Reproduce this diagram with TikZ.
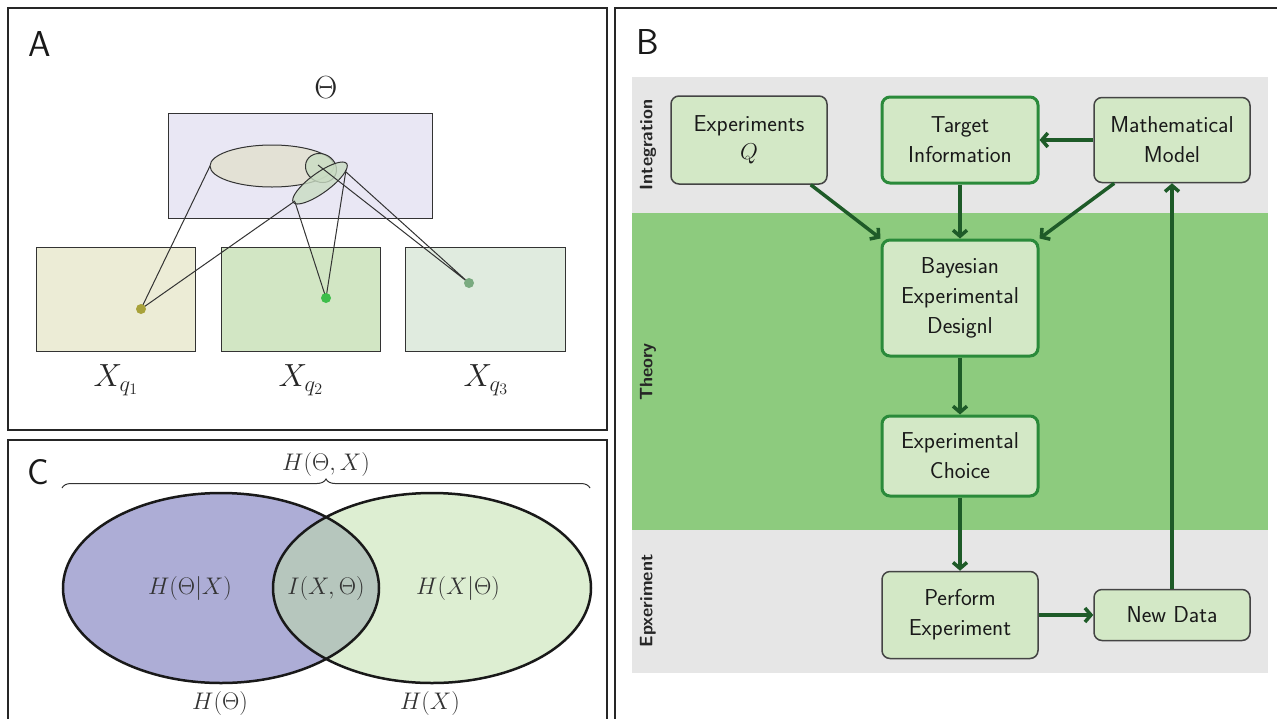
\RequirePackage{fix-cm}
\documentclass[tikz,border=0pt]{standalone}
\usetikzlibrary{arrows.meta,decorations.pathreplacing,calc}
\definecolor{bandgray}{HTML}{E6E6E6}
\definecolor{bandgreen}{HTML}{8DCB7E}
\definecolor{boxgreen}{HTML}{D3E8C6}
\definecolor{greenborder}{HTML}{2A8A3A}
\definecolor{grayborder}{HTML}{444444}
\definecolor{arrowgreen}{HTML}{1E5B28}
\definecolor{purplerect}{HTML}{E9E7F4}
\definecolor{boxone}{HTML}{ECECD6}
\definecolor{boxtwo}{HTML}{D2E6C4}
\definecolor{boxthree}{HTML}{E0EBDF}
\definecolor{bigell}{HTML}{E3E1D5}
\definecolor{smallell}{HTML}{C9DCC3}
\definecolor{dotone}{HTML}{A8A23A}
\definecolor{dottwo}{HTML}{3DBE4A}
\definecolor{dotthree}{HTML}{7AAA80}
\definecolor{vennleft}{HTML}{ADADD6}
\definecolor{vennright}{HTML}{DDEED2}
\definecolor{vennmid}{HTML}{B6C6BD}
\begin{document}
\begin{tikzpicture}[x=1pt,y=-1pt,
  frame/.style={line width=2.5pt, draw=black!85},
  flowbox/.style={rounded corners=8pt, fill=boxgreen, draw=grayborder, line width=1.5pt,
     minimum width=156pt, align=center, text=black!90,
     font=\sffamily\fontsize{23}{30}\selectfont, inner sep=2pt},
  keybox/.style={flowbox, draw=greenborder, line width=3pt},
  arr/.style={draw=arrowgreen, line width=3.5pt, -{Straight Barb[length=6pt,width=14pt]}},
  bandlabel/.style={rotate=90, font=\sffamily\bfseries\fontsize{18}{20}\selectfont, text=black!85},
  panellabel/.style={font=\sffamily\fontsize{36}{40}\selectfont, text=black!90},
  thinline/.style={draw=black!80, line width=1pt},
  mathlabel/.style={font=\fontsize{32}{36}\selectfont, text=black!85},
  vennlabel/.style={font=\fontsize{24}{28}\selectfont, text=black!80}
]
\useasboundingbox (0,0) rectangle (1277,718);
\fill[white] (0,0) rectangle (1277,718);

% ---------------- Panel A ----------------
\draw[frame] (8,8) rectangle (607,430);
\node[panellabel] (labA) at (40,44) {A};
\node[mathlabel] (theta) at (326,88) {$\Theta$};
\draw[draw=black!80, line width=1pt, fill=purplerect] (168,113) rectangle (432,218);
\draw[thinline, fill=boxone] (36,247) rectangle (195,351);
\draw[thinline, fill=boxtwo] (221,247) rectangle (380,351);
\draw[thinline, fill=boxthree] (405,247) rectangle (565,351);
\node[mathlabel] (xq1) at (116,380) {$X_{q_1}$};
\node[mathlabel] (xq2) at (301,380) {$X_{q_2}$};
\node[mathlabel] (xq3) at (486,380) {$X_{q_3}$};
\draw[thinline, fill=bigell] (272,166) ellipse [x radius=62pt, y radius=21pt];
\draw[thinline, fill=smallell, fill opacity=0.8, rotate around={-30:(321,168)}] (321,168) ellipse [x radius=16pt, y radius=14pt];
\draw[thinline, fill=smallell, fill opacity=0.8, rotate around={36:(320,183)}] (320,183) ellipse [x radius=33pt, y radius=10pt];
\coordinate (d1) at (141,309);
\coordinate (d2) at (326,298);
\coordinate (d3) at (469,283);
\draw[thinline] (210,166) -- (d1) -- (295,201);
\draw[thinline] (295,202) -- (d2) -- (346,170);
\draw[thinline] (318,165) -- (d3) -- (346,172);
\fill[dotone] (d1) circle (5pt);
\fill[dottwo] (d2) circle (5pt);
\fill[dotthree] (d3) circle (5pt);

% ---------------- Panel C ----------------
\draw[frame] (8,440) rectangle (607,740);
\node[panellabel] (labC) at (38,472) {C};
\draw[draw=black!80, line width=1pt, decorate, decoration={brace, amplitude=9pt}] (62,488) -- (590,488);
\node[vennlabel] (hjoint) at (326,464) {$H(\Theta,X)$};
\fill[vennleft] (221,588) ellipse [x radius=158pt, y radius=95pt];
\fill[vennright] (432,588) ellipse [x radius=159pt, y radius=95pt];
\begin{scope}
  \clip (221,588) ellipse [x radius=158pt, y radius=95pt];
  \fill[vennmid] (432,588) ellipse [x radius=159pt, y radius=95pt];
\end{scope}
\draw[black!90, line width=2.5pt] (221,588) ellipse [x radius=158pt, y radius=95pt];
\draw[black!90, line width=2.5pt] (432,588) ellipse [x radius=159pt, y radius=95pt];
\node[vennlabel] (hcond) at (190,588) {$H(\Theta|X)$};
\node[vennlabel] (mi) at (326,588) {$I(X,\Theta)$};
\node[vennlabel] (hxcond) at (458,588) {$H(X|\Theta)$};
\node[vennlabel] (htheta) at (220,703) {$H(\Theta)$};
\node[vennlabel] (hx) at (430,703) {$H(X)$};

% ---------------- Panel B ----------------
\draw[frame] (615,8) rectangle (1295,740);
\node[panellabel] (labB) at (648,42) {B};
\fill[bandgray] (632,77) rectangle (1268,213);
\fill[bandgreen] (632,213) rectangle (1268,530);
\fill[bandgray] (632,530) rectangle (1268,673);
\node[bandlabel] (lint) at (648,145) {Integration};
\node[bandlabel] (lthe) at (648,372) {Theory};
\node[bandlabel] (lexp) at (648,601) {Epxeriment};

\node[flowbox, minimum height=88pt] (exq) at (749,140) {Experiments\\[-2pt]$Q$};
\node[keybox, minimum height=86pt] (target) at (960,140) {Target\\Information};
\node[flowbox, minimum height=85pt] (math) at (1172,140) {Mathematical\\Model};
\node[keybox, minimum height=116pt] (bayes) at (960,298) {Bayesian\\Experimental\\Designl};
\node[keybox, minimum height=80pt] (choice) at (960,456) {Experimental\\Choice};
\node[flowbox, minimum height=87pt] (perform) at (960,615) {Perform\\Experiment};
\node[flowbox, minimum height=51pt] (newdata) at (1172,615) {New Data};

\draw[arr] ($(exq.south east)+(-17,0)$) -- (bayes.north west);
\draw[arr] (target.south) -- (bayes.north);
\draw[arr] ($(math.south west)+(21,0)$) -- (bayes.north east);
\draw[arr] (math.west) -- (target.east);
\draw[arr] (bayes.south) -- (choice.north);
\draw[arr] (choice.south) -- (perform.north);
\draw[arr] (perform.east) -- (newdata.west);
\draw[arr] (newdata.north) -- (math.south);
\end{tikzpicture}
\end{document}
